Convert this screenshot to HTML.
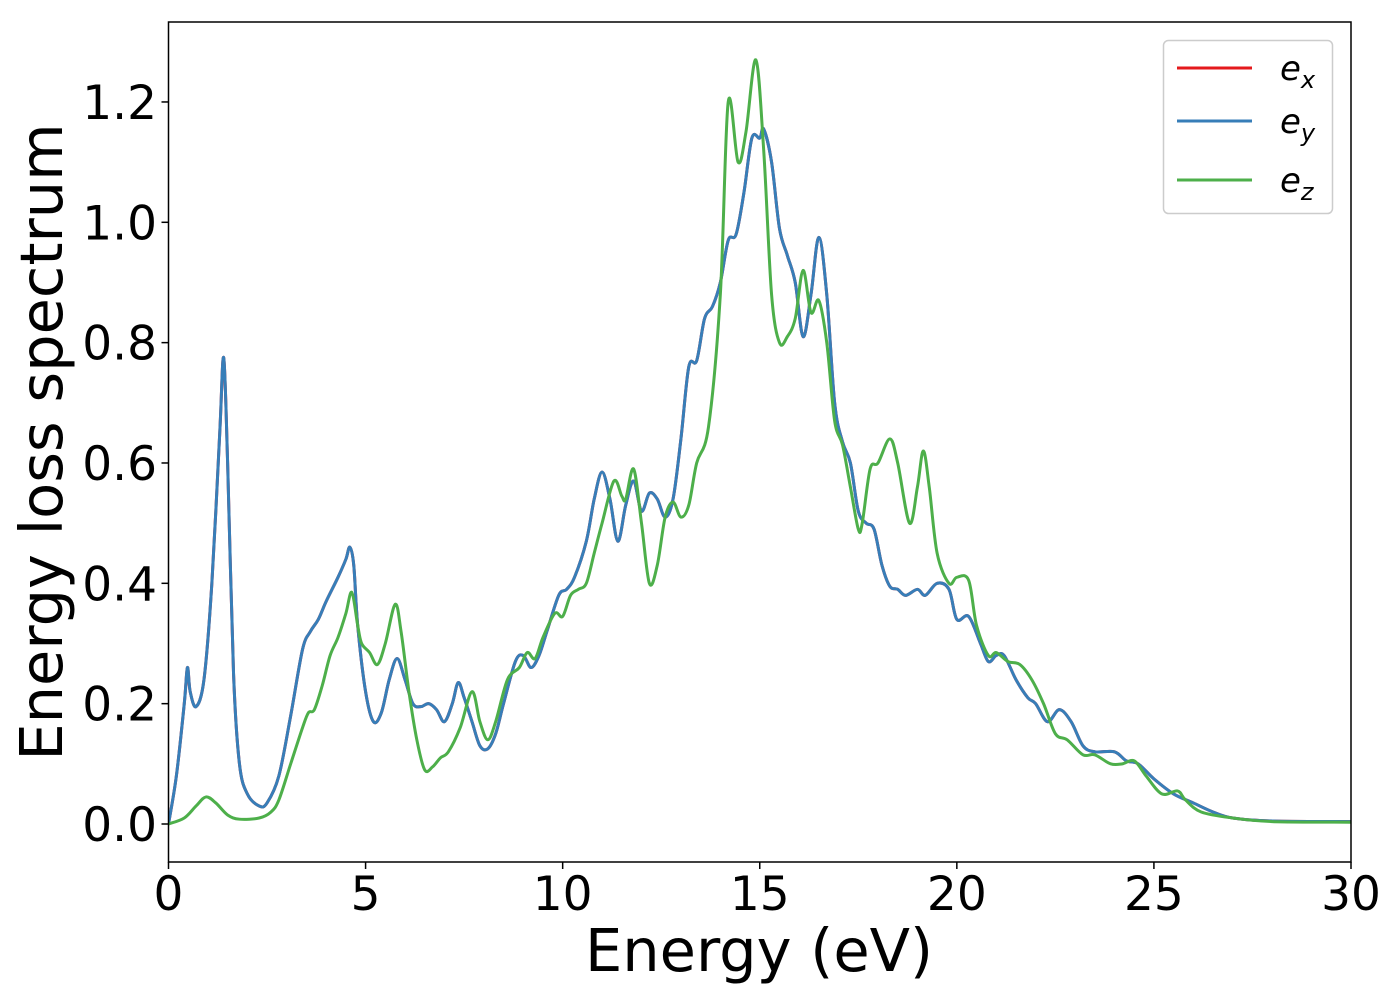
<!DOCTYPE html>
<html><head><meta charset="utf-8"><style>
body{margin:0;background:#fff;}
svg{display:block;font-family:"DejaVu Sans","Liberation Sans",sans-serif;}
</style></head><body>
<svg id="chart" width="1400" height="1000">
<rect width="1400" height="1000" fill="#fff"/>
<g id="plot"></g>
<g id="axes"></g>
<g>
<rect x="1163.5" y="40.5" width="169" height="173" rx="5" fill="#fff" fill-opacity="0.8" stroke="#ccc" stroke-width="1.5"/>
<line x1="1177" y1="68" x2="1252" y2="68" stroke="#e41a1c" stroke-width="3"/>
<text x="1280" y="80" font-size="34" font-style="italic">e<tspan font-size="24" dy="8">x</tspan></text>
<line x1="1177" y1="121" x2="1252" y2="121" stroke="#377eb8" stroke-width="3"/>
<text x="1280" y="133" font-size="34" font-style="italic">e<tspan font-size="24" dy="8">y</tspan></text>
<line x1="1177" y1="180" x2="1252" y2="180" stroke="#4daf4a" stroke-width="3"/>
<text x="1280" y="192" font-size="34" font-style="italic">e<tspan font-size="24" dy="8">z</tspan></text>
</g>
<text x="759" y="971" font-size="59" text-anchor="middle">Energy (eV)</text>
<text transform="translate(62,442) rotate(-90)" font-size="59" text-anchor="middle">Energy loss spectrum</text>
</svg>
<script>
const xTicks=[0,5,10,15,20,25,30];
const yTicks=[0,0.2,0.4,0.6,0.8,1.0,1.2];
const yTickLabels=["0.0","0.2","0.4","0.6","0.8","1.0","1.2"];
const blueX=[0,0.2,0.4,0.48,0.55,0.7,0.9,1.1,1.3,1.4,1.5,1.65,1.8,2.0,2.3,2.5,2.8,3.1,3.4,3.6,3.8,4.0,4.3,4.5,4.6,4.7,4.8,5.0,5.2,5.4,5.6,5.8,6.0,6.2,6.4,6.6,6.8,7.0,7.2,7.35,7.5,7.7,7.9,8.1,8.3,8.5,8.8,9.0,9.2,9.4,9.6,9.9,10.1,10.3,10.6,10.8,11.0,11.2,11.4,11.6,11.8,12.0,12.2,12.4,12.6,12.8,13.0,13.2,13.4,13.6,13.8,14.0,14.2,14.4,14.6,14.8,15.0,15.1,15.3,15.5,15.7,15.9,16.1,16.3,16.5,16.7,16.9,17.1,17.3,17.5,17.7,17.9,18.1,18.3,18.5,18.7,19.0,19.2,19.5,19.8,20.0,20.3,20.6,20.8,21.0,21.2,21.5,21.8,22.0,22.3,22.6,22.9,23.2,23.5,24.0,24.3,24.6,25.0,25.5,26.0,26.5,27,28,30];
const blueY=[0,0.08,0.2,0.26,0.22,0.195,0.24,0.4,0.65,0.775,0.6,0.25,0.1,0.05,0.03,0.035,0.08,0.18,0.29,0.32,0.34,0.37,0.41,0.44,0.46,0.43,0.33,0.22,0.17,0.185,0.24,0.275,0.24,0.2,0.195,0.2,0.19,0.17,0.2,0.235,0.21,0.17,0.13,0.125,0.15,0.2,0.27,0.28,0.26,0.28,0.32,0.38,0.39,0.41,0.47,0.54,0.585,0.54,0.47,0.53,0.57,0.52,0.55,0.54,0.51,0.54,0.64,0.76,0.77,0.84,0.86,0.9,0.97,0.98,1.05,1.14,1.14,1.155,1.1,0.99,0.945,0.9,0.81,0.88,0.975,0.88,0.7,0.635,0.6,0.52,0.5,0.49,0.43,0.395,0.39,0.38,0.39,0.38,0.4,0.39,0.34,0.345,0.3,0.27,0.28,0.28,0.24,0.21,0.2,0.17,0.19,0.17,0.13,0.12,0.12,0.105,0.1,0.075,0.05,0.035,0.02,0.01,0.005,0.004];
const greenX=[0,0.4,0.7,0.95,1.2,1.5,1.8,2.3,2.6,2.8,3.1,3.4,3.55,3.7,3.9,4.1,4.3,4.5,4.65,4.8,4.9,5.1,5.3,5.5,5.75,5.9,6.1,6.3,6.5,6.7,6.9,7.1,7.4,7.7,7.9,8.1,8.3,8.6,8.9,9.1,9.3,9.5,9.8,10.0,10.2,10.4,10.6,10.8,11.0,11.3,11.5,11.6,11.8,12.0,12.2,12.4,12.6,12.8,13.0,13.2,13.4,13.7,14.0,14.2,14.45,14.65,14.9,15.1,15.3,15.5,15.7,15.9,16.1,16.3,16.5,16.7,16.9,17.1,17.3,17.5,17.6,17.8,18.0,18.3,18.5,18.8,19.0,19.15,19.3,19.5,19.8,20.0,20.3,20.5,20.8,21.0,21.3,21.6,21.9,22.2,22.5,22.8,23.2,23.5,23.9,24.2,24.5,24.8,25.2,25.6,25.8,26.2,27,28,30];
const greenY=[0,0.01,0.03,0.045,0.035,0.015,0.008,0.01,0.02,0.04,0.1,0.16,0.185,0.19,0.23,0.28,0.31,0.35,0.385,0.33,0.3,0.285,0.265,0.3,0.365,0.32,0.22,0.14,0.09,0.095,0.11,0.12,0.16,0.22,0.17,0.14,0.17,0.24,0.26,0.285,0.275,0.31,0.35,0.345,0.38,0.39,0.4,0.45,0.5,0.57,0.545,0.54,0.59,0.5,0.4,0.43,0.51,0.535,0.51,0.53,0.6,0.66,0.88,1.2,1.1,1.15,1.27,1.12,0.88,0.8,0.81,0.84,0.92,0.85,0.87,0.8,0.67,0.63,0.56,0.49,0.5,0.59,0.6,0.64,0.6,0.5,0.56,0.62,0.56,0.45,0.4,0.41,0.405,0.33,0.28,0.285,0.27,0.265,0.24,0.2,0.15,0.14,0.115,0.115,0.1,0.1,0.105,0.08,0.05,0.055,0.04,0.02,0.01,0.004,0.003];

const X0=168.5,X1=1351,Y0=824,YPER=601.7;
const sx=v=>X0+(X1-X0)*v/30;
const sy=v=>Y0-v*YPER;
const NS="http://www.w3.org/2000/svg";
function mk(t,a,p){const e=document.createElementNS(NS,t);for(const k in a)e.setAttribute(k,a[k]);p.appendChild(e);return e;}
function pathD(xs,ys){
  const P=xs.map((x,i)=>[sx(x),sy(ys[i])]);
  let d="M"+P[0][0]+","+P[0][1];
  for(let i=0;i<P.length-1;i++){
    const p0=P[Math.max(0,i-1)],p1=P[i],p2=P[i+1],p3=P[Math.min(P.length-1,i+2)];
    const c1=[p1[0]+(p2[0]-p0[0])/6,p1[1]+(p2[1]-p0[1])/6];
    const c2=[p2[0]-(p3[0]-p1[0])/6,p2[1]-(p3[1]-p1[1])/6];
    d+="C"+c1+" "+c2+" "+p2;
  }
  return d;
}
const plot=document.getElementById("plot");
const clip=mk("clipPath",{id:"c"},plot);mk("rect",{x:X0,y:22,width:X1-X0,height:840},clip);
const g=mk("g",{"clip-path":"url(#c)"},plot);
const lr=mk("path",{d:pathD(blueX,blueY),fill:"none",stroke:"#e41a1c","stroke-width":3},g);


const lb=mk("path",{d:pathD(blueX,blueY),fill:"none",stroke:"#377eb8","stroke-width":3},g);


const lg=mk("path",{d:pathD(greenX,greenY),fill:"none",stroke:"#4daf4a","stroke-width":3},g);



const ax=document.getElementById("axes");
const fr=mk("rect",{x:X0,y:22,width:X1-X0,height:840,fill:"none",stroke:"#000","stroke-width":1.5},ax);


xTicks.forEach(v=>{
  const x=sx(v);
  const t=mk("line",{x1:x,y1:862,x2:x,y2:869,stroke:"#000","stroke-width":1.5},ax);
  
  
  const l=mk("text",{x:x,y:910,"font-size":47,"text-anchor":"middle"},ax);
  l.textContent=String(v);
  
  
});
yTicks.forEach((v,i)=>{
  const y=sy(v);
  const t=mk("line",{x1:X0-7,y1:y,x2:X0,y2:y,stroke:"#000","stroke-width":1.5},ax);
  
  
  const l=mk("text",{x:157,y:y+17,"font-size":47,"text-anchor":"end"},ax);
  l.textContent=yTickLabels[i];
  
  
});
</script>
</body></html>
